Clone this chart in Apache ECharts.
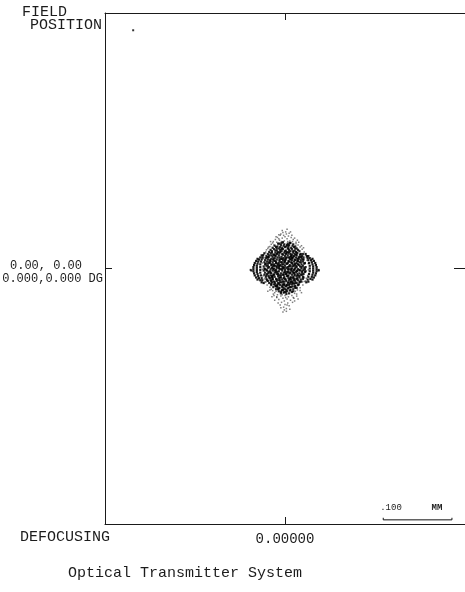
<!DOCTYPE html>
<html>
<head>
<meta charset="utf-8">
<script src="https://cdn.jsdelivr.net/npm/echarts@6/dist/echarts.min.js"></script>
<style>
  html, body { margin: 0; padding: 0; background: #fff; }
  #chart { width: 465px; height: 592px; }
</style>
</head>
<body>
<div id="chart"></div>
<script>
// Spot diagram, on-axis field, positions in micrometres (x right, y up).
const xRange = [-262, 262];
const yRange = [-370, 370];

// Dense central cluster of ray intersections
const coreSpots = [
  [-10,36],[-5,37],[-1,35],[4,36],[8,37],[12,35],
  [-15,33],[-11,32],[-6,34],[-2,33],[2,32],[6,34],[11,33],[15,32],
  [-18,30],[-13,31],[-9,29],[-4,30],[0,31],[5,29],[9,30],[13,31],[17,29],
  [-21,27],[-16,28],[-12,26],[-7,27],[-3,28],[1,26],[6,27],[10,28],[14,26],[19,27],
  [-23,24],[-19,25],[-14,23],[-10,24],[-5,25],[-1,23],[3,24],[8,25],[12,23],[16,24],[21,25],
  [-25,21],[-21,22],[-17,20],[-12,21],[-8,22],[-3,20],[1,21],[5,22],[10,20],[14,21],[18,22],[23,21],
  [-27,18],[-23,19],[-18,17],[-14,18],[-9,19],[-5,17],[0,18],[4,19],[8,17],[13,18],[17,19],[21,17],[25,18],
  [-28,15],[-24,16],[-20,14],[-15,15],[-11,16],[-6,14],[-2,15],[3,16],[7,14],[11,15],[16,16],[20,14],[24,15],[27,16],
  [-29,12],[-25,13],[-21,11],[-17,12],[-12,13],[-8,11],[-3,12],[1,13],[5,11],[10,12],[14,13],[18,11],[23,12],[27,13],
  [-30,9],[-26,10],[-22,8],[-18,9],[-13,10],[-9,8],[-4,9],[0,10],[4,8],[9,9],[13,10],[17,8],[21,9],[26,10],[29,8],
  [-29,6],[-25,7],[-20,5],[-16,6],[-11,7],[-7,5],[-2,6],[2,7],[7,5],[11,6],[15,7],[20,5],[24,6],[28,7],
  [-31,3],[-27,4],[-23,2],[-18,3],[-14,4],[-9,2],[-5,3],[0,4],[4,2],[8,3],[13,4],[17,2],[22,3],[26,4],[30,2],
  [-30,0],[-25,1],[-21,-1],[-16,0],[-12,1],[-7,-1],[-3,0],[2,1],[6,-1],[10,0],[15,1],[19,-1],[24,0],[28,1],
  [-31,-3],[-27,-2],[-22,-4],[-18,-3],[-13,-2],[-9,-4],[-4,-3],[0,-2],[5,-4],[9,-3],[13,-2],[18,-4],[22,-3],[27,-2],[30,-4],
  [-29,-6],[-24,-5],[-20,-7],[-15,-6],[-11,-5],[-6,-7],[-2,-6],[3,-5],[7,-7],[12,-6],[16,-5],[21,-7],[25,-6],[29,-5],
  [-30,-9],[-26,-8],[-21,-10],[-17,-9],[-12,-8],[-8,-10],[-3,-9],[1,-8],[5,-10],[10,-9],[14,-8],[19,-10],[23,-9],[27,-8],
  [-28,-12],[-24,-11],[-19,-13],[-15,-12],[-10,-11],[-6,-13],[-1,-12],[3,-11],[8,-13],[12,-12],[17,-11],[21,-13],[26,-12],
  [-27,-15],[-22,-14],[-18,-16],[-13,-15],[-9,-14],[-4,-16],[0,-15],[5,-14],[9,-16],[14,-15],[18,-14],[23,-16],[26,-15],
  [-25,-18],[-21,-17],[-16,-19],[-12,-18],[-7,-17],[-3,-19],[2,-18],[6,-17],[11,-19],[15,-18],[19,-17],[24,-19],
  [-23,-21],[-19,-20],[-14,-22],[-10,-21],[-5,-20],[-1,-22],[4,-21],[8,-20],[13,-22],[17,-21],[21,-20],
  [-20,-24],[-16,-23],[-12,-25],[-7,-24],[-3,-23],[2,-25],[6,-24],[10,-23],[15,-25],[19,-24],
  [-17,-27],[-13,-26],[-8,-28],[-4,-27],[1,-26],[5,-28],[9,-27],[14,-26],[17,-28],
  [-13,-30],[-9,-29],[-4,-31],[0,-30],[4,-29],[8,-31],[12,-30],
  [-9,-33],[-5,-32],[-1,-34],[3,-33],[7,-32],[10,-34],
  [-6,-36],[-2,-35],[2,-37],[6,-36],
  [-26,16],[-19,23],[-7,31],[3,34],[15,29],[22,20],[26,13],[-28,7],[-22,12],[-14,26],
  [-4,21],[6,24],[12,17],[19,11],[24,2],[-24,-7],[-17,-1],[-10,5],[-1,9],[8,13],
  [16,4],[21,-11],[27,-13],[-27,-10],[-20,-18],[-11,-24],[-2,-28],[7,-22],[13,-17],[18,-8],
  [11,-4],[-6,-10],[-13,-5],[-19,6],[1,-16],[9,-13],[-8,16],[4,29],[-16,20],[17,23],
  [25,-9],[-29,-1],[29,-1],[-23,-13],[-15,-20],[2,-31],[11,-26],[-6,-34],[20,16],[-12,29],
  [0,25],[-3,2],[5,-6],[14,-1],[-9,-17],[-18,-12],[10,8],[23,9],[-25,4],[15,-21],
  [-4,-25],[7,37],[-8,36],[-20,19],[26,21],[-26,-17],[22,-19],[-1,-19],[-11,-27],[12,-33]
];

// Extra rays piling up in the middle of the cluster
const centreSpots = [
  [-17,14],[-13,8],[-8,13],[-4,6],[1,15],[6,10],[11,3],[15,12],[-15,-3],[-10,-8],
  [-5,-1],[0,-5],[4,-11],[8,-6],[12,-14],[17,-3],[-19,1],[-14,19],[-7,24],[2,22],
  [9,18],[16,20],[-2,-14],[-7,-20],[3,-24],[9,-19],[-12,-16],[-16,-9],[6,3],[-1,1],
  [19,6],[-21,-6],[14,-10],[-9,0],[4,-1],[-6,9],[10,15],[-11,22],[7,-27],[-3,-31],
  [18,14],[-18,-15],[0,12],[-12,3],[13,-6],[2,-8],[-7,-13],[8,21],[-15,11],[21,-2],
  [-23,9],[11,-21],[-5,28],[5,32],[-10,-30],[15,-28],[-24,17],[23,17],[-1,-24],[6,16],
  [-20,-22],[20,-23],[1,-34],[-3,38],[-8,4],[9,-1],[-14,-25],[12,25],[17,-15],[-19,-11],
  [25,-4],[-26,-3],[3,7],[-2,-9],[7,-15],[-9,-22],[14,6],[-4,14],[5,-20],[-16,4]
];

// Sparse outer rays above, below and beside the cluster
const haloSpots = [
  [-3,52],[2,50],[-7,48],[5,47],[0,46],[-11,45],[9,45],[-4,44],[3,43],[-14,42],
  [12,42],[-8,41],[7,40],[-1,40],[-17,39],[16,38],[-12,38],[11,39],[4,39],[-5,39],
  [-20,35],[19,34],[-22,32],[22,31],[-9,43],[14,44],[-2,48],[6,51],[-6,50],[1,53],
  [10,48],[-13,46],[18,41],[-18,37],[-25,29],[25,28],
  [-32,14],[32,12],[-31,20],[30,19],[-30,-15],[31,-14],[-28,24],[28,24],[-28,-20],[28,-19],
  [-20,-30],[18,-31],[-15,-35],[14,-36],[-11,-38],[10,-39],[-6,-40],[5,-41],[0,-39],[-3,-43],
  [3,-44],[-9,-45],[8,-46],[-1,-47],[-5,-49],[4,-50],[0,-52],[-7,-53],[6,-54],[-2,-56],
  [2,-58],[-12,-42],[13,-43],[-16,-39],[17,-40],[-22,-27],[22,-28],[-4,-38],[11,-49],[-10,-50],
  [1,-42],[-13,-33],[15,-33],[-18,-32],[-1,-60],[3,-53],
  [-24,31],[24,33],[-27,27],[27,30],[-31,16],[31,16],[-33,8],[34,7],[-33,-1],[34,-2],
  [-32,-11],[33,-10],[-29,-19],[30,-18],[-26,-24],[26,-24],[-22,-31],[22,-32],[-17,-37],[17,-37],
  [-12,-41],[12,-42],[-16,34],[16,36],[-21,39],[20,38],[-9,49],[8,53],[-4,55],[3,57],
  [-15,-46],[14,-47],[-6,-57],[7,-59],[-3,-63],[2,-62],[-19,-41],[19,-44],[-25,-33],[24,-35]
];

// Outer ray zones that fold into arcs at both sides
const arcSpots = [
  [-40,14],[-42,11],[-44,8],[-45,5],[-46,2],[-46,-1],[-46,-4],[-45,-7],[-44,-10],[-42,-13],[-40,-16],
  [-34,19],[-36,16],[-38,13],[-39,10],[-40,7],[-41,4],[-41,1],[-41,-2],[-41,-5],[-40,-8],[-39,-11],[-38,-14],[-36,-17],[-34,-20],
  [-30,22],[-32,19],[-33,16],[-34,13],[-35,10],[-36,6],[-36,2],[-36,-2],[-36,-6],[-35,-10],[-34,-14],[-33,-17],[-31,-21],
  [40,14],[42,11],[44,8],[45,5],[46,2],[46,-1],[46,-4],[45,-7],[44,-10],[42,-13],[40,-16],
  [34,18],[36,15],[38,12],[39,9],[40,6],[41,3],[41,0],[41,-3],[41,-6],[40,-9],[39,-12],[37,-15],[34,-19],
  [30,21],[32,18],[33,15],[34,12],[35,8],[36,4],[36,0],[36,-4],[35,-8],[34,-12],[33,-16],[31,-20]
];

// Extreme rays and a lone stray point
const edgeSpots = [[-50,-2],[-49,-3],[49,-2],[49,-3],[-221,345]];

// 0.100 mm scale bar with end marks
const scaleBar = [[143,-361],[143,-364],[243,-364],[243,-361]];

const axisColor = '#1a1a1a';
const textColor = '#1c1c1c';
const mono = '"Liberation Mono", "DejaVu Sans Mono", monospace';

function frameAxis(extra) {
  return Object.assign({
    type: 'value',
    axisLine: { show: true, onZero: false, lineStyle: { color: axisColor, width: 1 } },
    axisTick: { show: true, inside: true, length: 7, customValues: [0], lineStyle: { color: axisColor } },
    axisLabel: { show: false },
    splitLine: { show: false }
  }, extra);
}

const chart = echarts.init(document.getElementById('chart'), null, { renderer: 'canvas' });

const txt = (x, y, text, size, align, weight) => ({
  type: 'text', x: x, y: y, silent: true,
  style: {
    text: text, fill: textColor, font: (weight || 'normal') + ' ' + size + 'px ' + mono,
    align: align || 'left', verticalAlign: 'middle'
  }
});

const spotSeries = (data, size, opacity) => ({
  type: 'scatter', data: data, symbol: 'rect', symbolSize: size,
  itemStyle: { color: '#000', opacity: opacity }
});

chart.setOption({
  animation: false,
  backgroundColor: '#fff',
  grid: { left: 105, right: -1, top: 13, bottom: 68 },
  xAxis: [
    frameAxis({
      position: 'bottom', min: xRange[0], max: xRange[1],
      axisLabel: {
        show: true, customValues: [0], margin: 8, color: textColor,
        fontFamily: mono, fontSize: 14, formatter: () => '0.00000'
      }
    }),
    frameAxis({ position: 'top', min: xRange[0], max: xRange[1] })
  ],
  yAxis: [
    frameAxis({ position: 'left', min: yRange[0], max: yRange[1] }),
    frameAxis({ position: 'right', min: yRange[0], max: yRange[1],
      axisTick: { show: true, inside: true, length: 11, customValues: [0], lineStyle: { color: axisColor } } })
  ],
  series: [
    spotSeries(haloSpots, 1.5, 0.5),
    spotSeries(coreSpots, 2.2, 0.85),
    spotSeries(centreSpots, 2.2, 0.9),
    spotSeries(arcSpots, 2.2, 0.9),
    spotSeries(edgeSpots, 2, 0.8),
    {
      type: 'line', data: scaleBar, showSymbol: false, silent: true,
      lineStyle: { color: '#111', width: 1 }
    }
  ],
  graphic: [
    txt(22, 12, 'FIELD', 15),
    txt(102, 25, 'POSITION', 15, 'right'),
    txt(10, 266, '0.00, 0.00', 12),
    txt(103, 279, '0.000,0.000 DG', 12, 'right'),
    txt(20, 537, 'DEFOCUSING', 15),
    txt(391, 508, '.100', 9, 'center'),
    txt(437, 508, 'MM', 9, 'center', 'bold'),
    txt(68, 573, 'Optical Transmitter System', 15)
  ]
});
</script>
</body>
</html>
